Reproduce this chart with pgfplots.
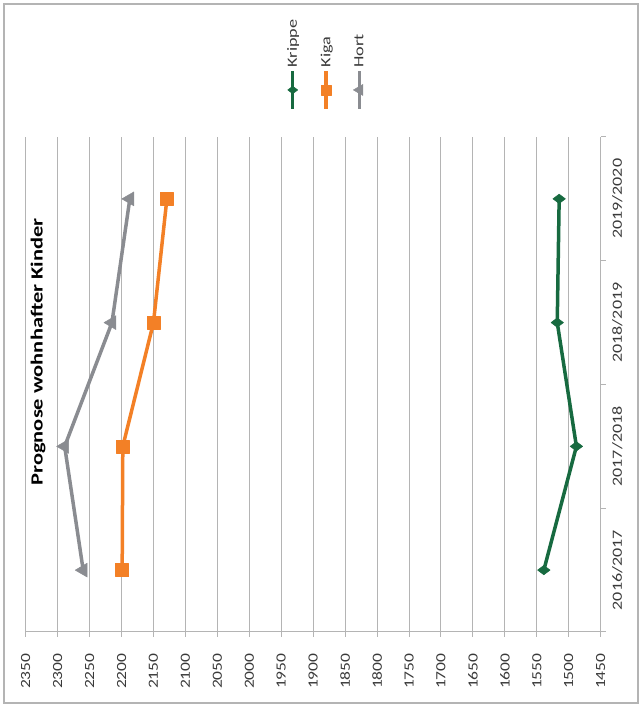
\documentclass[border=0pt]{standalone}
\usepackage{fontspec}
\setmainfont{Carlito}
\usepackage{pgfplots}
\pgfplotsset{compat=1.18}
\definecolor{krippe}{HTML}{176A40}
\definecolor{kiga}{HTML}{F38026}
\definecolor{hort}{HTML}{8A8C91}
\definecolor{gridc}{HTML}{B4B4B4}
\definecolor{txt}{HTML}{3A3A3A}

% legend entry: vertical line with mark, text above it
\pgfplotsset{vleg/.style={legend image code/.code={
    \draw[overlay, mark repeat=2, mark phase=2,
        every mark/.append style={scale=0.8}]
        plot coordinates {(0pt,-38pt) (0pt,-19pt) (0pt,0pt)};
    \node[overlay, rotate=90, anchor=west, inner sep=1pt, text=txt, xscale=1.3,
        font=\fontsize{14pt}{16pt}\selectfont] at (0pt,0pt) {#1};
    \path (-8pt,0pt) (8pt,0pt);
}}}

\begin{document}
\begin{tikzpicture}
\path[use as bounding box] (0pt,0pt) rectangle (641pt,707pt);
\draw[gridc, line width=1.3pt] (4pt,4pt) rectangle (638pt,703pt);
\begin{axis}[
    at={(25.7pt,75pt)}, anchor=south west,
    scale only axis, width=575pt, height=495pt,
    x dir=reverse,
    xmin=1450, xmax=2350, ymin=-0.5, ymax=3.5,
    xtick={1450,1500,...,2350},
    /pgf/number format/assume math mode=true,
    /pgf/number format/1000 sep={},
    axis x line*=bottom, axis y line*=right,
    axis line style={gridc, line width=1pt},
    xmajorgrids, major grid style={gridc, line width=1pt},
    tick align=outside, tick style={gridc, line width=1pt},
    major tick length=5pt,
    ytick={-0.5,0.5,1.5,2.5,3.5}, yticklabels={},
    extra y ticks={0,1,2,3},
    extra y tick labels={2016/2017,2017/2018,2018/2019,2019/2020},
    extra y tick style={major tick length=0pt, yticklabel shift=8pt,
        yticklabel style={rotate=90, anchor=north, xscale=1.29,
            font=\fontsize{14pt}{16pt}\selectfont, text=txt}},
    xticklabel shift=12pt,
    xticklabel style={rotate=90, anchor=east, xscale=1.25,
        font=\fontsize{14pt}{16pt}\selectfont, text=txt},
    every axis plot/.append style={line width=3.5pt, line join=round},
    legend columns=-1,
    legend style={at={(0.5292,1.1334)}, anchor=center,
        draw=none, fill=none, inner sep=0pt, column sep=6.5pt,
        nodes={inner sep=0pt}},
]
\addplot[krippe, mark=diamond*, mark size=6.25pt,
    mark options={rotate=90, line width=0.5pt}, vleg=Krippe]
    coordinates {(1539,0) (1488,1) (1518,2) (1515,3)};
\addlegendentry{}
\addplot[kiga, mark=square*, mark size=6.5pt,
    mark options={line width=0.5pt}, vleg=Kiga]
    coordinates {(2199,0) (2198,1) (2150,2) (2129,3)};
\addlegendentry{}
\addplot[hort, mark=triangle*, mark size=8pt,
    mark options={rotate=90, line width=0.5pt}, vleg=Hort]
    coordinates {(2260,0) (2289,1) (2215,2) (2187,3)};
\addlegendentry{}
\end{axis}
\node[rotate=90, xscale=1.32, font=\bfseries\fontsize{17pt}{19pt}\selectfont]
    at (38pt,355pt) {Prognose wohnhafter Kinder};
\end{tikzpicture}
\end{document}
